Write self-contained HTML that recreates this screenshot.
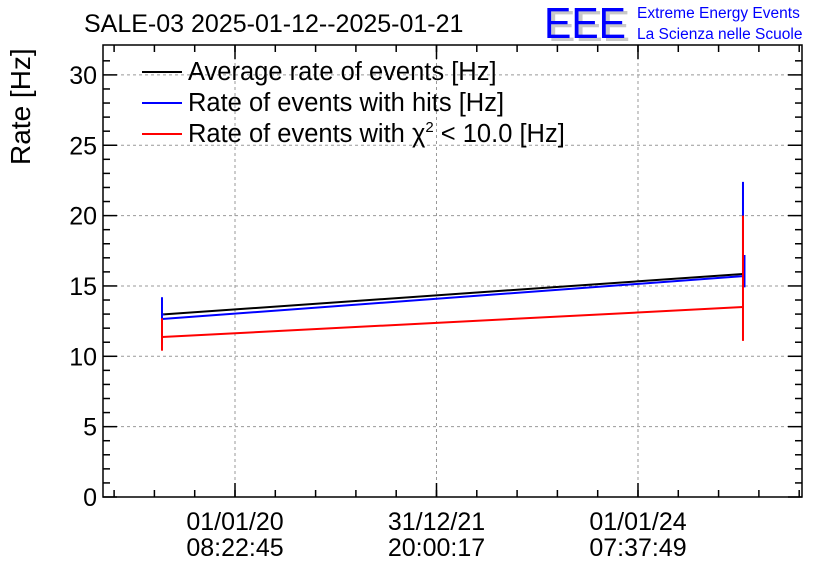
<!DOCTYPE html>
<html><head><meta charset="utf-8"><style>
body{margin:0;background:#fff;}
svg{display:block;font-family:"Liberation Sans",sans-serif;}
</style></head><body>
<svg id="c" width="836" height="572">
<text x="84" y="32" font-size="25">SALE-03 2025-01-12--2025-01-21</text>
<g>
<text x="548" y="41" font-size="44" fill="#c8c8c8" textLength="82" lengthAdjust="spacingAndGlyphs">EEE</text>
<text x="544" y="38" font-size="44" fill="#0000ff" textLength="82" lengthAdjust="spacingAndGlyphs">EEE</text>
</g>
<text x="637" y="18" font-size="15.5" fill="#0000ff">Extreme Energy Events</text>
<text x="637" y="39" font-size="15.5" fill="#0000ff">La Scienza nelle Scuole</text>
<text transform="translate(30,165) rotate(-90)" font-size="28" text-anchor="start">Rate [Hz]</text>
<g id="grid"></g><g id="axes"></g><g id="series"></g>
<g>
<line x1="142" y1="72" x2="182" y2="72" stroke="#000" stroke-width="2"/>
<text x="188" y="80" font-size="25.5">Average rate of events [Hz]</text>
<line x1="142" y1="103" x2="182" y2="103" stroke="#00f" stroke-width="2"/>
<text x="188" y="111" font-size="25.5">Rate of events with hits [Hz]</text>
<line x1="142" y1="134" x2="182" y2="134" stroke="#f00" stroke-width="2"/>
<text x="188" y="142" font-size="25.5">Rate of events with χ<tspan dy="-10" font-size="15">2</tspan><tspan dy="10"> &lt; 10.0 [Hz]</tspan></text>
</g>
</svg>
<script>
const xTickDays=[0,712,1424];
const xTickLabels=[["01/01/20","08:22:45"],["31/12/21","20:00:17"],["01/01/24","07:37:49"]];
const yTicks=[0,5,10,15,20,25,30];
const pointDays=[-258,1795];
const avgRate=[12.97,15.85];
const hitsRate=[12.65,15.7];
const chiRate=[11.37,13.5];
const avgErrLo=[12.9,14.9];
const avgErrHi=[13.0,17.2];
const hitsErrLo=[10.9,14.9];
const hitsErrHi=[14.2,22.4];
const chiErrLo=[10.4,11.1];
const chiErrHi=[12.7,20.0];
const L=103,R=802,T=45,B=497;
const X=d=>235+d*0.2830;
const Y=v=>B-v*14.07;
const NS="http://www.w3.org/2000/svg";
function mk(tag,at,par){const e=document.createElementNS(NS,tag);for(const k in at)e.setAttribute(k,at[k]);document.getElementById(par).appendChild(e);return e;}
const fr=mk('rect',{x:L,y:T,width:R-L,height:B-T,fill:'none',stroke:'#000','stroke-width':1.5},'axes');


yTicks.forEach(v=>{
 if(v>0){const g=mk('line',{x1:L,x2:R,y1:Y(v),y2:Y(v),stroke:'#999','stroke-dasharray':'3,3'},'grid');
 
 }
 mk('line',{x1:L,x2:L+14,y1:Y(v),y2:Y(v),stroke:'#000','stroke-width':1.5},'axes');
 mk('line',{x1:R,x2:R-14,y1:Y(v),y2:Y(v),stroke:'#000','stroke-width':1.5},'axes');
 const t=mk('text',{x:L-6,y:Y(v)+9,'font-size':25,'text-anchor':'end'},'axes');t.textContent=v;
 
 
});
for(let v=1;v<32;v++){if(v%5==0)continue;mk('line',{x1:L,x2:L+7,y1:Y(v),y2:Y(v),stroke:'#000','stroke-width':1.5},'axes');mk('line',{x1:R,x2:R-7,y1:Y(v),y2:Y(v),stroke:'#000','stroke-width':1.5},'axes');}
xTickDays.forEach((d,i)=>{
 const g=mk('line',{x1:X(d),x2:X(d),y1:T,y2:B,stroke:'#999','stroke-dasharray':'3,3'},'grid');
 
 
 mk('line',{x1:X(d),x2:X(d),y1:B,y2:B-14,stroke:'#000','stroke-width':1.5},'axes');
 mk('line',{x1:X(d),x2:X(d),y1:T,y2:T+14,stroke:'#000','stroke-width':1.5},'axes');
 xTickLabels[i].forEach((s,j)=>{const t=mk('text',{x:X(d),y:530+j*26,'font-size':25,'text-anchor':'middle'},'axes');t.textContent=s;
 
 });
});
for(let d=-712;d<2200;d+=712/5){const x=X(d);if(x<=L||x>=R)continue;mk('line',{x1:x,x2:x,y1:B,y2:B-7,stroke:'#000','stroke-width':1.5},'axes');mk('line',{x1:x,x2:x,y1:T,y2:T+7,stroke:'#000','stroke-width':1.5},'axes');}
function line(vals,col,name){const p=mk('polyline',{points:vals.map((v,i)=>X(pointDays[i])+','+Y(v)).join(' '),fill:'none',stroke:col,'stroke-width':2},'series');
 
 }
line(avgRate,'#000','average-rate-line');
line(hitsRate,'#00f','hits-rate-line');
line(chiRate,'#f00','chi2-rate-line');
function err(lo,hi,col,name,off){lo.forEach((v,i)=>{const x=X(pointDays[i])+off;const e=mk('line',{x1:x,x2:x,y1:Y(v),y2:Y(hi[i]),stroke:col,'stroke-width':2},'series');
 
 });}
err(avgErrLo,avgErrHi,'#00f','average-error-bar',1.5);
err(hitsErrLo,hitsErrHi,'#00f','hits-error-bar',0);
err(chiErrLo,chiErrHi,'#f00','chi2-error-bar',0);
</script>
</body></html>
